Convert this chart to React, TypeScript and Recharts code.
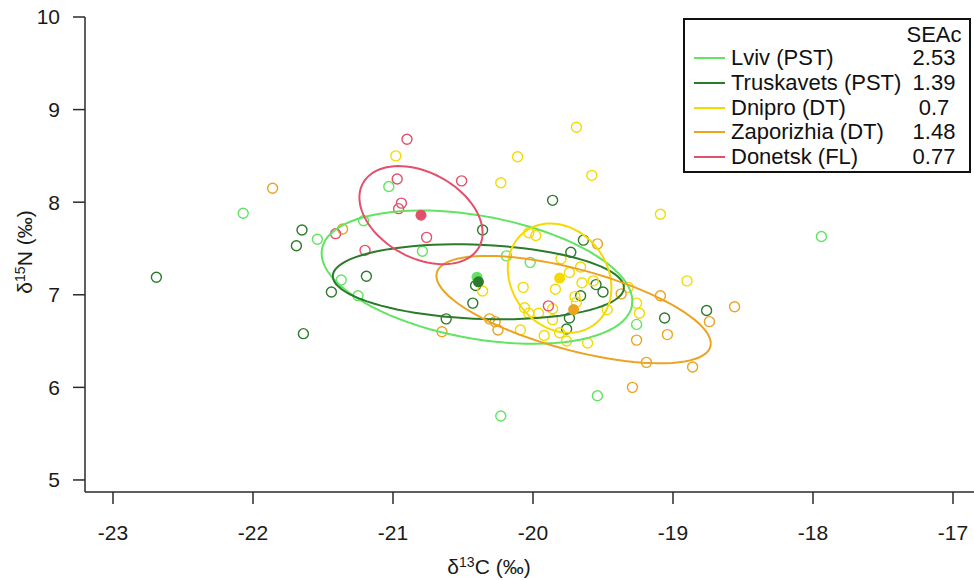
import { ScatterChart, Scatter, XAxis, YAxis } from 'recharts'

// SIBER-style isotope biplot: raw samples, SEAc ellipses, group means

const GROUPS = ['Lviv (PST)', 'Truskavets (PST)', 'Dnipro (DT)', 'Zaporizhia (DT)', 'Donetsk (FL)']
const SEAC = ['2.53', '1.39', '0.7', '1.48', '0.77']
const COLORS = ['#62e462', '#2c7a2c', '#f4da00', '#eca322', '#e2506c']

const X_TICKS = [-23, -22, -21, -20, -19, -18, -17]
const Y_TICKS = [5, 6, 7, 8, 9, 10]

// δ13C, δ15N per sample
const lviv: [number, number][] = [
  [-21.03, 8.17], [-22.07, 7.88], [-21.54, 7.6], [-21.21, 7.8], [-20.79, 7.47],
  [-21.37, 7.16], [-21.25, 6.99], [-20.19, 7.42], [-20.02, 7.35], [-19.26, 6.68],
  [-17.94, 7.63], [-19.54, 5.91], [-20.23, 5.69],
]

const truskavets: [number, number][] = [
  [-22.69, 7.19], [-21.65, 7.7], [-21.69, 7.53], [-21.64, 6.58], [-21.44, 7.03],
  [-21.19, 7.2], [-20.62, 6.74], [-20.36, 7.7], [-20.41, 7.1], [-20.43, 6.91],
  [-19.86, 8.02], [-19.64, 7.59], [-19.73, 7.46], [-19.55, 7.11], [-19.5, 7.03],
  [-19.66, 6.99], [-19.74, 6.75], [-19.76, 6.63], [-19.06, 6.75], [-18.76, 6.83],
]

const dnipro: [number, number][] = [
  [-20.98, 8.5], [-20.11, 8.49], [-19.69, 8.81], [-20.23, 8.21], [-19.58, 8.29],
  [-19.09, 7.87], [-18.9, 7.15], [-20.03, 7.67], [-19.98, 7.64], [-19.8, 7.39],
  [-19.66, 7.3], [-19.74, 7.24], [-19.57, 7.15], [-19.65, 7.13], [-20.07, 7.08],
  [-19.84, 7.06], [-20.36, 7.04], [-19.7, 6.98], [-19.69, 6.92], [-19.32, 7.08],
  [-19.26, 6.91], [-19.24, 6.8], [-19.47, 6.84], [-20.06, 6.86], [-20.03, 6.8],
  [-19.96, 6.8], [-19.86, 6.85], [-19.86, 6.73], [-20.09, 6.62], [-19.92, 6.56],
  [-19.81, 6.59], [-19.76, 6.5], [-19.61, 6.48],
]

const zaporizhia: [number, number][] = [
  [-21.86, 8.15], [-21.36, 7.71], [-20.65, 6.6], [-20.31, 6.74], [-20.27, 6.71],
  [-20.25, 6.62], [-19.54, 7.55], [-19.37, 7.01], [-19.09, 6.99], [-18.56, 6.87],
  [-18.74, 6.71], [-19.04, 6.57], [-19.26, 6.51], [-19.19, 6.27], [-18.86, 6.22],
  [-19.29, 6.0],
]

const donetsk: [number, number][] = [
  [-20.9, 8.68], [-20.97, 8.25], [-20.51, 8.23], [-20.94, 7.99], [-20.96, 7.93],
  [-21.41, 7.66], [-20.76, 7.62], [-21.2, 7.48], [-19.89, 6.88],
]

const SAMPLES = [lviv, truskavets, dnipro, zaporizhia, donetsk]

// group means and SEAc ellipse shape (sd x, sd y, correlation)
const MEAN_X = [-20.4, -20.39, -19.81, -19.71, -20.8]
const MEAN_Y = [7.19, 7.14, 7.18, 6.84, 7.86]
const SD_X = [1.11, 1.04, 0.37, 0.98, 0.44]
const SD_Y = [0.72, 0.405, 0.59, 0.58, 0.53]
const CORR = [-0.36, -0.15, -0.18, -0.63, -0.36]

function ellipsePoints(i: number) {
  const pts: { x: number; y: number }[] = []
  const k = Math.sqrt(1 - CORR[i] * CORR[i])
  for (let s = 0; s <= 90; s++) {
    const t = (s / 90) * Math.PI * 2
    pts.push({
      x: MEAN_X[i] + SD_X[i] * Math.cos(t),
      y: MEAN_Y[i] + SD_Y[i] * (CORR[i] * Math.cos(t) + k * Math.sin(t)),
    })
  }
  return pts
}

const FONT = '"Liberation Sans", Arial, sans-serif'
const AXIS = '#2a2a2a'

export default function App() {
  return (
    <div style={{ position: 'absolute', left: 0, top: 0, width: 974, height: 580, background: '#fff', fontFamily: FONT }}>
      <ScatterChart width={974} height={580} margin={{ top: 17, right: 0, bottom: 28, left: 25 }}>
        <XAxis
          type="number"
          dataKey="x"
          domain={[-23.2, -16.85]}
          ticks={X_TICKS}
          allowDataOverflow
          height={60}
          tickSize={12}
          tickMargin={21}
          axisLine={{ stroke: AXIS, strokeWidth: 1.5 }}
          tickLine={{ stroke: AXIS, strokeWidth: 1.5 }}
          tick={{ fontSize: 21, fill: '#1a1a1a', fontFamily: FONT }}
        />
        <YAxis
          type="number"
          dataKey="y"
          domain={[4.87, 10]}
          ticks={Y_TICKS}
          allowDataOverflow
          width={60}
          tickSize={12}
          tickMargin={13}
          axisLine={{ stroke: AXIS, strokeWidth: 1.5 }}
          tickLine={{ stroke: AXIS, strokeWidth: 1.5 }}
          tick={{ fontSize: 21, fill: '#1a1a1a', fontFamily: FONT }}
        />
        {SAMPLES.map((pts, i) => (
          <Scatter
            key={'pts' + i}
            data={pts.map(([x, y]) => ({ x, y }))}
            isAnimationActive={false}
            shape={(p: any) => (
              <circle cx={p.cx} cy={p.cy} r={5} fill="none" stroke={COLORS[i]} strokeWidth={1.4} />
            )}
          />
        ))}
        {GROUPS.map((g, i) => (
          <Scatter
            key={'ell' + i}
            name={g}
            data={ellipsePoints(i)}
            isAnimationActive={false}
            line={{ stroke: COLORS[i], strokeWidth: 2 }}
            lineType="joint"
            shape={() => <g />}
          />
        ))}
        {GROUPS.map((g, i) => (
          <Scatter
            key={'mean' + i}
            data={[{ x: MEAN_X[i], y: MEAN_Y[i] }]}
            isAnimationActive={false}
            shape={(p: any) => <circle cx={p.cx} cy={p.cy} r={5.5} fill={COLORS[i]} stroke="none" />}
          />
        ))}
      </ScatterChart>

      {/* axis titles */}
      <div style={{ position: 'absolute', left: 389, top: 554, width: 200, textAlign: 'center', fontSize: 21, color: '#1a1a1a', lineHeight: '26px' }}>
        δ<sup style={{ fontSize: 14, verticalAlign: 'top', lineHeight: '16px' }}>13</sup>C (‰)
      </div>
      <div
        style={{
          position: 'absolute', left: 25, top: 252, width: 200, marginLeft: -100, marginTop: -13,
          textAlign: 'center', fontSize: 21, color: '#1a1a1a', lineHeight: '26px', transform: 'rotate(-90deg)',
        }}
      >
        δ<sup style={{ fontSize: 14, verticalAlign: 'top', lineHeight: '16px' }}>15</sup>N (‰)
      </div>

      {/* legend box */}
      <div style={{ position: 'absolute', left: 683, top: 18, width: 288, height: 155, border: '2px solid #111', boxSizing: 'border-box', background: '#fff', fontSize: 22, color: '#111' }}>
        <div style={{ position: 'absolute', left: 214, top: 4, width: 70, height: 22, textAlign: 'center', lineHeight: '22px' }}>SEAc</div>
        {GROUPS.map((g, i) => (
          <div key={g} style={{ position: 'absolute', left: 0, top: 38 + 24.75 * i - 11, width: 284, height: 22, lineHeight: '22px' }}>
            <div style={{ position: 'absolute', left: 9, top: 10, width: 31, height: 2, background: COLORS[i] }} />
            <div style={{ position: 'absolute', left: 46, whiteSpace: 'nowrap' }}>{g}</div>
            <div style={{ position: 'absolute', left: 214, width: 70, textAlign: 'center' }}>{SEAC[i]}</div>
          </div>
        ))}
      </div>
    </div>
  )
}
